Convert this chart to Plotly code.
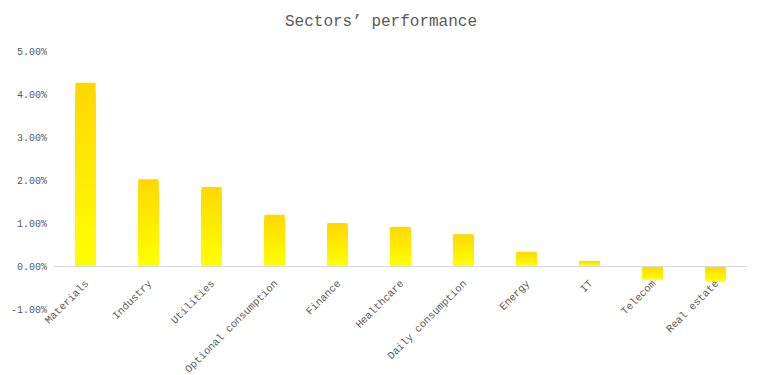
import plotly.graph_objects as go

categories = ["Materials", "Industry", "Utilities", "Optional consumption", "Finance",
              "Healthcare", "Daily consumption", "Energy", "IT", "Telecom", "Real estate"]
values = [4.26, 2.02, 1.84, 1.19, 1.00, 0.91, 0.74, 0.33, 0.12, -0.32, -0.35]
y_ticks = [-1, 0, 1, 2, 3, 4, 5]
y_tick_labels = ["-1.00%", "0.00%", "1.00%", "2.00%", "3.00%", "4.00%", "5.00%"]

TOP = (255, 216, 0)
BOTTOM = (255, 255, 0)
N = 24

def mix(t):
    r = round(TOP[0] + (BOTTOM[0] - TOP[0]) * t)
    g = round(TOP[1] + (BOTTOM[1] - TOP[1]) * t)
    b = round(TOP[2] + (BOTTOM[2] - TOP[2]) * t)
    return f"rgb({r},{g},{b})"

fig = go.Figure()
for k in range(N):
    frac = (N - k) / N
    ys = [v * frac for v in values]
    cols = [mix(k / (N - 1)) if v >= 0 else mix(1 - k / (N - 1)) for v in values]
    fig.add_trace(go.Bar(
        x=categories, y=ys, width=0.32,
        marker=dict(color=cols, line=dict(width=0)),
        showlegend=False,
        hoverinfo="skip" if k else "x+y",
    ))

ymin, ymax = -1, 5
fig.update_layout(
    width=762, height=375,
    barmode="overlay",
    plot_bgcolor="white", paper_bgcolor="white",
    margin=dict(l=54, r=15, t=51, b=66),
    title=dict(text="Sectors’ performance", x=0.5, xanchor="center",
               y=1 - 20 / 375, yanchor="middle", yref="container",
               font=dict(family="Liberation Mono", size=16, color="#595959")),
    xaxis=dict(
        type="category",
        anchor="free", position=(0 - ymin) / (ymax - ymin),
        showline=True, linecolor="#D9D9D9", linewidth=1,
        showgrid=False, ticks="", tickangle=-45,
        ticklabelstandoff=6,
        tickfont=dict(family="Liberation Mono", size=10.5, color="#595959"),
        automargin=False,
    ),
    yaxis=dict(
        range=[ymin, ymax], tickvals=y_ticks, ticktext=y_tick_labels,
        showgrid=False, zeroline=False, showline=False, ticks="",
        ticklabelstandoff=6,
        tickfont=dict(family="Liberation Mono", size=10, color="#595959"),
        automargin=False,
    ),
)

fig.write_html("out.html", config={"displayModeBar": False},
               post_script="document.body.style.margin='0';")
